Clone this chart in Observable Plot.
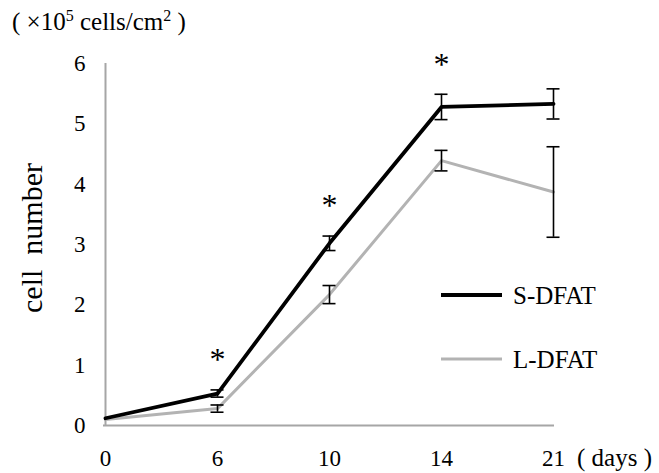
<!DOCTYPE html>
<html><head><meta charset="utf-8">
<script src="https://cdn.jsdelivr.net/npm/d3@7"></script>
<script src="https://cdn.jsdelivr.net/npm/@observablehq/plot@0.6"></script>
<style>body{margin:0;background:#fff;} #chart{position:relative;width:659px;height:473px;}</style>
</head><body><div id="chart"></div>
<script>
// ---- data ----
const days = ["0", "6", "10", "14", "21"];
const series = ["S-DFAT", "L-DFAT"];
const sMean = [0.12, 0.53, 3.02, 5.28, 5.33];
const sErr  = [0.00, 0.06, 0.12, 0.21, 0.25];
const lMean = [0.10, 0.28, 2.17, 4.39, 3.87];
const lErr  = [0.00, 0.06, 0.15, 0.17, 0.75];
const yTicks = [0, 1, 2, 3, 4, 5, 6];
const starDays = ["6", "10", "14"];
const seriesColors = ["#000000", "#b3b3b3"];

const font = "Liberation Serif, Tinos, Times New Roman, Nimbus Roman, DejaVu Serif, serif";
const rows = days.flatMap((d, i) => [
  {day: d, series: series[0], mean: sMean[i], err: sErr[i]},
  {day: d, series: series[1], mean: lMean[i], err: lErr[i]}
]);
const bars = rows.filter(r => r.err > 0);
const stars = starDays.map(d => ({day: d, y: sMean[days.indexOf(d)] + sErr[days.indexOf(d)]}));

const chart = Plot.plot({
  width: 659, height: 473,
  marginLeft: 103, marginRight: 105, marginTop: 63, marginBottom: 48,
  style: {fontFamily: font, fontSize: "23px", background: "#fff", color: "#000"},
  x: {type: "point", domain: days, padding: 0, axis: null},
  y: {domain: [0, 6], axis: null},
  marks: [
    Plot.ruleY([0], {stroke: "#a6a6a6", strokeWidth: 2}),
    Plot.ruleX([days[0]], {stroke: "#a6a6a6", strokeWidth: 2}),
    Plot.axisX({tickSize: 0, tickPadding: 24, fontSize: 23, label: null}),
    Plot.axisY({ticks: yTicks, tickSize: 0, tickPadding: 18, tickFormat: d => String(d), fontSize: 23, label: null}),
    Plot.line(rows.filter(r => r.series === series[1]), {x: "day", y: "mean", stroke: seriesColors[1], strokeWidth: 3}),
    Plot.line(rows.filter(r => r.series === series[0]), {x: "day", y: "mean", stroke: seriesColors[0], strokeWidth: 3.8}),
    Plot.ruleX(bars, {x: "day", y1: d => d.mean - d.err, y2: d => d.mean + d.err, stroke: "#000", strokeWidth: 1.6}),
    Plot.ruleY(bars, {x1: "day", x2: "day", y: d => d.mean + d.err, insetLeft: -6.5, insetRight: -6.5, stroke: "#000", strokeWidth: 1.6}),
    Plot.ruleY(bars, {x1: "day", x2: "day", y: d => d.mean - d.err, insetLeft: -6.5, insetRight: -6.5, stroke: "#000", strokeWidth: 1.6}),
    Plot.text(stars, {x: "day", y: "y", text: () => "*", dy: -30, fontSize: 32})
  ]
});
document.getElementById("chart").appendChild(chart);

const svg = d3.select(chart);
// unit label
const unit = svg.append("text").attr("x", 12).attr("y", 30).attr("text-anchor", "start")
  .attr("font-family", font).attr("font-size", 25).attr("fill", "#000");
unit.append("tspan").text("(\u00a0×10");
unit.append("tspan").attr("font-size", 16).attr("dy", -9).text("5");
unit.append("tspan").attr("dy", 9).text(" cells/cm");
unit.append("tspan").attr("font-size", 16).attr("dy", -9).text("2");
unit.append("tspan").attr("dy", 9).text(" )");

// y axis label
svg.append("text").attr("transform", "translate(42,238) rotate(-90)")
  .attr("text-anchor", "middle").attr("font-family", font).attr("font-size", 30)
  .attr("fill", "#000").text("cell\u00a0\u00a0number");

// x unit label
svg.append("text").attr("x", 577).attr("y", 466).attr("text-anchor", "start")
  .attr("font-family", font).attr("font-size", 25).attr("fill", "#000").text("(\u00a0days\u00a0)");

// legend
const legendY = [295, 359];
series.forEach((s, i) => {
  svg.append("line").attr("x1", 441).attr("x2", 502).attr("y1", legendY[i]).attr("y2", legendY[i])
    .attr("stroke", seriesColors[i]).attr("stroke-width", i === 0 ? 3.8 : 3);
  svg.append("text").attr("x", 513).attr("y", legendY[i]).attr("dy", "0.35em").attr("text-anchor", "start")
    .attr("font-family", font).attr("font-size", 25).attr("fill", "#000").text(s);
});
</script>
</body></html>
